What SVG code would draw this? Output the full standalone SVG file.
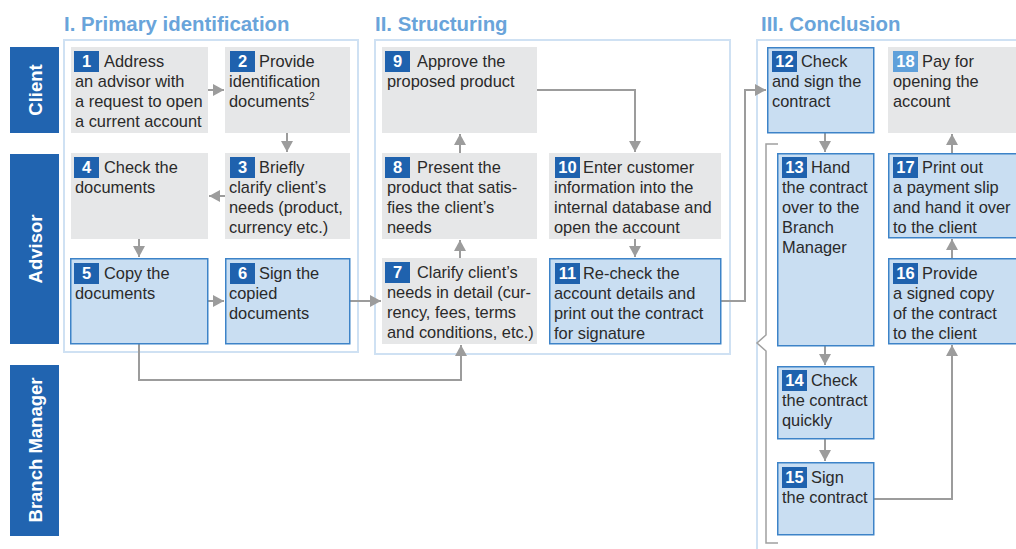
<svg xmlns="http://www.w3.org/2000/svg" width="1016" height="549" viewBox="0 0 1016 549">
<defs>
<style>
.lane{fill:#2164b0}
.lt{font-family:"Liberation Sans",Arial,sans-serif;font-weight:bold;font-size:18.5px;fill:#fff;text-anchor:middle}
.hd{font-family:"Liberation Sans",Arial,sans-serif;font-weight:bold;font-size:20.4px;fill:#69a4da}
.frame{fill:none;stroke:#cfe1f3;stroke-width:2}
.g{fill:#e6e7e8}
.b{fill:#c9def2;stroke:#3d83c8;stroke-width:1.5}
.bd{fill:#1f62ae}
.bl{fill:#5fa0da}
.bn{font-family:"Liberation Sans",Arial,sans-serif;font-weight:bold;font-size:16.5px;fill:#fff;text-anchor:middle}
.t{font-family:"Liberation Sans",Arial,sans-serif;font-size:16.4px;fill:#2a2a2a}
.c{fill:none;stroke:#9c9c9c;stroke-width:2}
.br{fill:none;stroke:#a0a0a0;stroke-width:1.5}
</style>
<marker id="ah" markerUnits="userSpaceOnUse" markerWidth="12" markerHeight="12" refX="11" refY="6" orient="auto">
<path d="M0,0 L11,6 L0,12 z" fill="#9c9c9c"/>
</marker>
</defs>
<rect width="1016" height="549" fill="#fff"/>

<g id="lanes">
<rect class="lane" x="10" y="47" width="49" height="86"/>
<text class="lt" transform="translate(41.5,90) rotate(-90)">Client</text>
<rect class="lane" x="10" y="154" width="49" height="190"/>
<text class="lt" transform="translate(41.5,249) rotate(-90)">Advisor</text>
<rect class="lane" x="10" y="365" width="49" height="171"/>
<text class="lt" transform="translate(41.5,450) rotate(-90)">Branch Manager</text>
</g>

<g id="sections">
<text class="hd" x="64" y="31">I. Primary identification</text>
<text class="hd" x="375" y="31">II. Structuring</text>
<text class="hd" x="761" y="31">III. Conclusion</text>
<rect class="frame" x="64" y="40" width="294" height="312"/>
<rect class="frame" x="375" y="40" width="355" height="314"/>
<path class="frame" d="M757,560 V40 H1030"/>
</g>

<g id="connectors">
<path class="c" d="M208,90 H224" marker-end="url(#ah)"/>
<path class="c" d="M287,133 V152" marker-end="url(#ah)"/>
<path class="c" d="M225,196 H209" marker-end="url(#ah)"/>
<path class="c" d="M139,239 V257" marker-end="url(#ah)"/>
<path class="c" d="M208,301 H224" marker-end="url(#ah)"/>
<path class="c" d="M350,301 H381" marker-end="url(#ah)"/>
<path class="c" d="M139,344 V380 H461 V345" marker-end="url(#ah)"/>
<path class="c" d="M460,258 V240" marker-end="url(#ah)"/>
<path class="c" d="M460,153 V134" marker-end="url(#ah)"/>
<path class="c" d="M537,90 H635 V152" marker-end="url(#ah)"/>
<path class="c" d="M635,239 V257" marker-end="url(#ah)"/>
<path class="c" d="M721,301 H745 V90 H766" marker-end="url(#ah)"/>
<path class="c" d="M825,133 V152" marker-end="url(#ah)"/>
<path class="c" d="M825,346 V365" marker-end="url(#ah)"/>
<path class="c" d="M825,439 V461" marker-end="url(#ah)"/>
<path class="c" d="M874,499 H952 V345" marker-end="url(#ah)"/>
<path class="c" d="M952,258 V239" marker-end="url(#ah)"/>
<path class="c" d="M952,153 V134" marker-end="url(#ah)"/>
<path class="br" d="M778,144 H766 V335 L757,343 L766,351 V543 H778"/>
</g>

<g id="n1">
<rect class="g" x="71" y="47" width="137" height="86"/>
<rect class="bd" x="74" y="51" width="25" height="21"/>
<text class="bn" x="86.5" y="67">1</text>
<text class="t"><tspan x="104" y="67">Address</tspan><tspan x="75" y="87">an advisor with</tspan><tspan x="75" y="107">a request to open</tspan><tspan x="75" y="127">a current account</tspan></text>
</g>
<g id="n2">
<rect class="g" x="225" y="47" width="125" height="86"/>
<rect class="bd" x="230" y="51" width="25" height="21"/>
<text class="bn" x="242.5" y="67">2</text>
<text class="t"><tspan x="259" y="67">Provide</tspan><tspan x="229" y="87">identification</tspan><tspan x="229" y="107">documents</tspan><tspan font-size="10" dy="-7">2</tspan></text>
</g>
<g id="n4">
<rect class="g" x="71" y="153" width="137" height="86"/>
<rect class="bd" x="74" y="157" width="25" height="21"/>
<text class="bn" x="86.5" y="173">4</text>
<text class="t"><tspan x="104" y="173">Check the</tspan><tspan x="75" y="193">documents</tspan></text>
</g>
<g id="n3">
<rect class="g" x="225" y="153" width="125" height="86"/>
<rect class="bd" x="230" y="157" width="25" height="21"/>
<text class="bn" x="242.5" y="173">3</text>
<text class="t"><tspan x="259" y="173">Briefly</tspan><tspan x="229" y="193">clarify client’s</tspan><tspan x="229" y="213">needs (product,</tspan><tspan x="229" y="233">currency etc.)</tspan></text>
</g>
<g id="n5">
<rect class="b" x="70.75" y="258.75" width="137" height="85"/>
<rect class="bd" x="74" y="263" width="25" height="21"/>
<text class="bn" x="86.5" y="279">5</text>
<text class="t"><tspan x="104" y="279">Copy the</tspan><tspan x="75" y="299">documents</tspan></text>
</g>
<g id="n6">
<rect class="b" x="225.75" y="258.75" width="124" height="85"/>
<rect class="bd" x="230" y="263" width="25" height="21"/>
<text class="bn" x="242.5" y="279">6</text>
<text class="t"><tspan x="259" y="279">Sign the</tspan><tspan x="229" y="299">copied</tspan><tspan x="229" y="319">documents</tspan></text>
</g>
<g id="n9">
<rect class="g" x="382" y="47" width="155" height="86"/>
<rect class="bd" x="385" y="51" width="25" height="21"/>
<text class="bn" x="397.5" y="67">9</text>
<text class="t"><tspan x="417" y="67">Approve the</tspan><tspan x="387" y="87">proposed product</tspan></text>
</g>
<g id="n8">
<rect class="g" x="382" y="153" width="155" height="86"/>
<rect class="bd" x="385" y="157" width="25" height="21"/>
<text class="bn" x="397.5" y="173">8</text>
<text class="t"><tspan x="417" y="173">Present the</tspan><tspan x="387" y="193">product that satis-</tspan><tspan x="387" y="213">fies the client’s</tspan><tspan x="387" y="233">needs</tspan></text>
</g>
<g id="n7">
<rect class="g" x="382" y="258" width="155" height="86"/>
<rect class="bd" x="385" y="262" width="25" height="21"/>
<text class="bn" x="397.5" y="278">7</text>
<text class="t"><tspan x="417" y="278">Clarify client’s</tspan><tspan x="387" y="298">needs in detail (cur-</tspan><tspan x="387" y="318">rency, fees, terms</tspan><tspan x="387" y="338">and conditions, etc.)</tspan></text>
</g>
<g id="n10">
<rect class="g" x="549" y="153" width="172" height="86"/>
<rect class="bd" x="555" y="157" width="25" height="21"/>
<text class="bn" x="567.5" y="173">10</text>
<text class="t"><tspan x="583" y="173">Enter customer</tspan><tspan x="554" y="193">information into the</tspan><tspan x="554" y="213">internal database and</tspan><tspan x="554" y="233">open the account</tspan></text>
</g>
<g id="n11">
<rect class="b" x="549.75" y="258.75" width="171" height="85"/>
<rect class="bd" x="555" y="263" width="25" height="21"/>
<text class="bn" x="567.5" y="279">11</text>
<text class="t"><tspan x="583" y="279">Re-check the</tspan><tspan x="554" y="299">account details and</tspan><tspan x="554" y="319">print out the contract</tspan><tspan x="554" y="339">for signature</tspan></text>
</g>
<g id="n12">
<rect class="b" x="767.75" y="47.75" width="106" height="85"/>
<rect class="bd" x="772" y="51" width="25" height="21"/>
<text class="bn" x="784.5" y="67">12</text>
<text class="t"><tspan x="801" y="67">Check</tspan><tspan x="772" y="87">and sign the</tspan><tspan x="772" y="107">contract</tspan></text>
</g>
<g id="n18">
<rect class="g" x="888" y="47" width="140" height="86"/>
<rect class="bl" x="893" y="51" width="25" height="21"/>
<text class="bn" x="905.5" y="67">18</text>
<text class="t"><tspan x="922" y="67">Pay for</tspan><tspan x="893" y="87">opening the</tspan><tspan x="893" y="107">account</tspan></text>
</g>
<g id="n13">
<rect class="b" x="777.75" y="153.75" width="96" height="192"/>
<rect class="bd" x="782" y="157" width="25" height="21"/>
<text class="bn" x="794.5" y="173">13</text>
<text class="t"><tspan x="811" y="173">Hand</tspan><tspan x="782" y="193">the contract</tspan><tspan x="782" y="213">over to the</tspan><tspan x="782" y="233">Branch</tspan><tspan x="782" y="253">Manager</tspan></text>
</g>
<g id="n17">
<rect class="b" x="888.75" y="153.75" width="140" height="84"/>
<rect class="bd" x="893" y="157" width="25" height="21"/>
<text class="bn" x="905.5" y="173">17</text>
<text class="t"><tspan x="922" y="173">Print out</tspan><tspan x="893" y="193">a payment slip</tspan><tspan x="893" y="213">and hand it over</tspan><tspan x="893" y="233">to the client</tspan></text>
</g>
<g id="n16">
<rect class="b" x="888.75" y="258.75" width="140" height="85"/>
<rect class="bd" x="893" y="263" width="25" height="21"/>
<text class="bn" x="905.5" y="279">16</text>
<text class="t"><tspan x="922" y="279">Provide</tspan><tspan x="893" y="299">a signed copy</tspan><tspan x="893" y="319">of the contract</tspan><tspan x="893" y="339">to the client</tspan></text>
</g>
<g id="n14">
<rect class="b" x="777.75" y="366.75" width="96" height="72"/>
<rect class="bd" x="782" y="370" width="25" height="21"/>
<text class="bn" x="794.5" y="386">14</text>
<text class="t"><tspan x="811" y="386">Check</tspan><tspan x="782" y="406">the contract</tspan><tspan x="782" y="426">quickly</tspan></text>
</g>
<g id="n15">
<rect class="b" x="777.75" y="462.75" width="96" height="72"/>
<rect class="bd" x="782" y="467" width="25" height="21"/>
<text class="bn" x="794.5" y="483">15</text>
<text class="t"><tspan x="811" y="483">Sign</tspan><tspan x="782" y="503">the contract</tspan></text>
</g>
</svg>
